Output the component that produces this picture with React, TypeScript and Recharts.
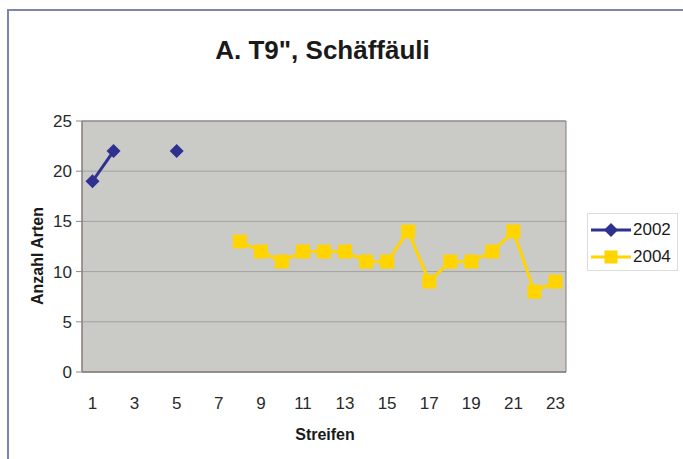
import React from "react";
import { LineChart, Line, XAxis, YAxis, CartesianGrid, ReferenceArea } from "recharts";

const streifen = [1, 2, 3, 4, 5, 6, 7, 8, 9, 10, 11, 12, 13, 14, 15, 16, 17, 18, 19, 20, 21, 22, 23];
const arten2002: (number | null)[] = [19, 22, null, null, 22, null, null, null, null, null, null, null, null, null, null, null, null, null, null, null, null, null, null];
const arten2004: (number | null)[] = [null, null, null, null, null, null, null, 13, 12, 11, 12, 12, 12, 11, 11, 14, 9, 11, 11, 12, 14, 8, 9];
const xTicks = [1, 3, 5, 7, 9, 11, 13, 15, 17, 19, 21, 23];
const xBoundaries = [0.5, 1.5, 2.5, 3.5, 4.5, 5.5, 6.5, 7.5, 8.5, 9.5, 10.5, 11.5, 12.5, 13.5, 14.5, 15.5, 16.5, 17.5, 18.5, 19.5, 20.5, 21.5, 22.5, 23.5];
const yTicks = [0, 5, 10, 15, 20, 25];
const seriesNames = ["2002", "2004"];
const title = 'A. T9", Schäffäuli';

const data = streifen.map((s, i) => ({ s, a: arten2002[i], b: arten2004[i] }));

const NAVY = "#2e3190";
const YELLOW = "#ffd400";
const FONT = "'Liberation Sans', Arial, sans-serif";

const Diamond = (props: any) => {
  const { cx, cy } = props;
  if (cx == null || cy == null || props.value == null) return <g key={props.key} />;
  const r = 7;
  return (
    <polygon
      key={props.key}
      points={`${cx},${cy - r} ${cx + r},${cy} ${cx},${cy + r} ${cx - r},${cy}`}
      fill={NAVY}
    />
  );
};

const Square = (props: any) => {
  const { cx, cy } = props;
  if (cx == null || cy == null || props.value == null) return <g key={props.key} />;
  const r = 7;
  return <rect key={props.key} x={cx - r} y={cy - r} width={2 * r} height={2 * r} fill={YELLOW} />;
};

export default function App() {
  return (
    <div style={{ position: "absolute", left: 0, top: 0, width: 683, height: 459, background: "#fff", overflow: "hidden", fontFamily: FONT }}>
      <div style={{ position: "absolute", left: 7, top: 9, width: 700, height: 470, borderTop: "2px solid #7c84b0", borderLeft: "2px solid #7c84b0" }} />
      <LineChart width={683} height={459} data={data} margin={{ top: 121, right: 117, bottom: 47, left: 0 }}>
        <CartesianGrid vertical={false} stroke="#a2a2a0" fill="#cacac7" />
        <ReferenceArea x1={0.5} x2={23.5} y1={0} y2={25} xAxisId="main" fill="none" fillOpacity={0} stroke="#857b7b" strokeWidth={1} ifOverflow="visible" />
        <XAxis
          xAxisId="bound"
          type="number"
          dataKey="s"
          domain={[0.5, 23.5]}
          ticks={xBoundaries}
          height={0}
          axisLine={false}
          tickSize={5}
          tickLine={{ stroke: "#8a8a8a" }}
          tick={() => <g />}
          allowDataOverflow
        />
        <XAxis
          xAxisId="main"
          type="number"
          dataKey="s"
          domain={[0.5, 23.5]}
          ticks={xTicks}
          interval={0}
          height={40}
          axisLine={{ stroke: "#857b7b" }}
          tickLine={false}
          tickMargin={19}
          tick={{ fontSize: 17, fill: "#2a2a2a", fontFamily: FONT }}
          allowDataOverflow
        />
        <YAxis
          type="number"
          domain={[0, 25]}
          ticks={yTicks}
          width={82}
          axisLine={{ stroke: "#857b7b" }}
          tickSize={6}
          tickMargin={4}
          tickLine={{ stroke: "#8a8a8a" }}
          tick={{ fontSize: 17, fill: "#2a2a2a", fontFamily: FONT }}
        />
        <Line xAxisId="main" dataKey="a" name={seriesNames[0]} stroke={NAVY} strokeWidth={3} dot={Diamond} activeDot={false} connectNulls={false} isAnimationActive={false} />
        <Line xAxisId="main" dataKey="b" name={seriesNames[1]} stroke={YELLOW} strokeWidth={3} dot={Square} activeDot={false} connectNulls={false} isAnimationActive={false} />
      </LineChart>
      <div style={{ position: "absolute", left: 0, width: 645, top: 35, textAlign: "center", fontSize: 26, fontWeight: "bold", color: "#1a1a1a" }}>{title}</div>
      <div style={{ position: "absolute", left: 38, top: 256, transform: "translate(-50%, -50%) rotate(-90deg)", whiteSpace: "nowrap", fontSize: 16, fontWeight: "bold", color: "#1a1a1a" }}>Anzahl Arten</div>
      <div style={{ position: "absolute", left: 325, top: 435, transform: "translate(-50%, -50%)", whiteSpace: "nowrap", fontSize: 16, fontWeight: "bold", color: "#1a1a1a" }}>Streifen</div>
      <div style={{ position: "absolute", left: 587, top: 213, width: 89, height: 56, border: "1px solid #dcdcdc", background: "#fff" }}>
        {seriesNames.map((n, i) => (
          <div key={n} style={{ position: "absolute", left: 3, top: 7 + i * 27, height: 18, display: "flex", alignItems: "center" }}>
            <svg width={40} height={18}>
              <line x1={0} y1={9} x2={40} y2={9} stroke={i === 0 ? NAVY : YELLOW} strokeWidth={3} />
              {i === 0 ? (
                <polygon points="20,2 27,9 20,16 13,9" fill={NAVY} />
              ) : (
                <rect x={13.5} y={2.5} width={13} height={13} fill={YELLOW} />
              )}
            </svg>
            <span style={{ fontSize: 17, color: "#1a1a1a", marginLeft: 2 }}>{n}</span>
          </div>
        ))}
      </div>
    </div>
  );
}
